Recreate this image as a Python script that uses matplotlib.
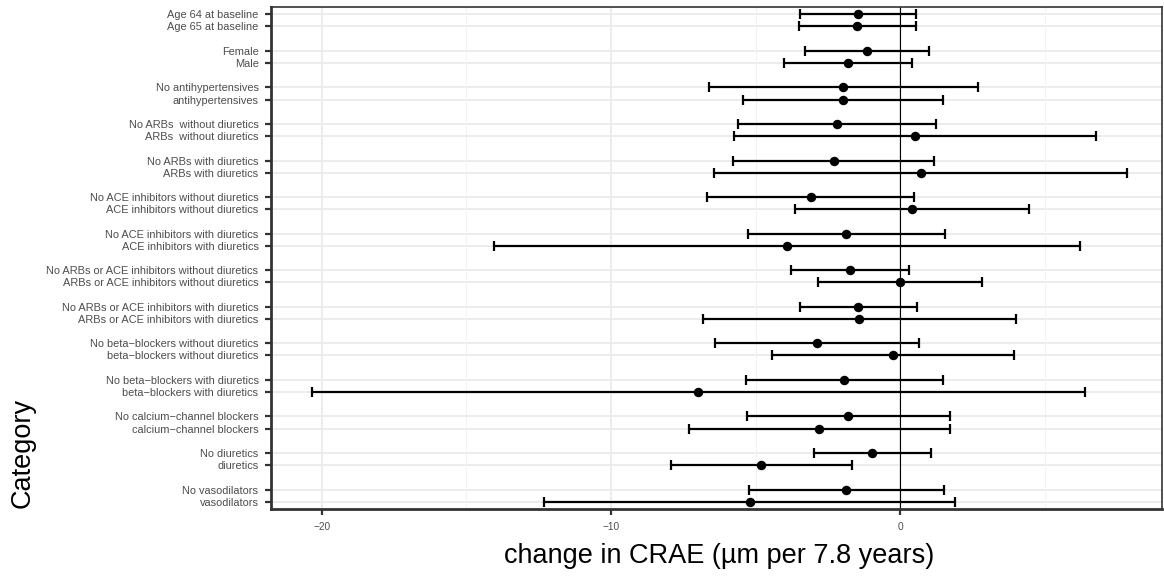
import matplotlib
matplotlib.use("Agg")
import matplotlib.pyplot as plt
import numpy as np

plt.rcParams['font.family'] = ['Liberation Sans', 'DejaVu Sans']

categories = [
    "Age 64 at baseline", "Age 65 at baseline",
    "Female", "Male",
    "No antihypertensives", "antihypertensives",
    "No ARBs  without diuretics", "ARBs  without diuretics",
    "No ARBs with diuretics", "ARBs with diuretics",
    "No ACE inhibitors without diuretics", "ACE inhibitors without diuretics",
    "No ACE inhibitors with diuretics", "ACE inhibitors with diuretics",
    "No ARBs or ACE inhibitors without diuretics", "ARBs or ACE inhibitors without diuretics",
    "No ARBs or ACE inhibitors with diuretics", "ARBs or ACE inhibitors with diuretics",
    "No beta\u2212blockers without diuretics", "beta\u2212blockers without diuretics",
    "No beta\u2212blockers with diuretics", "beta\u2212blockers with diuretics",
    "No calcium\u2212channel blockers", "calcium\u2212channel blockers",
    "No diuretics", "diuretics",
    "No vasodilators", "vasodilators",
]

estimate = [-1.47, -1.48, -1.14, -1.81, -1.96, -1.98, -2.18, 0.52, -2.30, 0.73,
            -3.10, 0.42, -1.87, -3.90, -1.73, 0.00, -1.45, -1.41, -2.86, -0.25,
            -1.93, -6.99, -1.80, -2.79, -0.96, -4.80, -1.89, -5.20]
lower = [-3.47, -3.50, -3.28, -4.02, -6.61, -5.43, -5.59, -5.73, -5.77, -6.42,
         -6.67, -3.62, -5.27, -14.03, -3.77, -2.84, -3.46, -6.81, -6.39, -4.43,
         -5.32, -20.34, -5.28, -7.29, -2.97, -7.92, -5.24, -12.32]
upper = [0.53, 0.53, 1.01, 0.41, 2.68, 1.47, 1.23, 6.78, 1.18, 7.84,
         0.47, 4.44, 1.54, 6.22, 0.29, 2.84, 0.57, 4.00, 0.65, 3.95,
         1.47, 6.40, 1.71, 1.71, 1.05, -1.68, 1.51, 1.91]

x_ticks = [-20, -10, 0]
x_minor = [-15, -5, 5]

W, H = 1164, 578
fig = plt.figure(figsize=(W / 100, H / 100), dpi=100)
ax = fig.add_axes([271 / W, 1 - 509 / H, (1162 - 271) / W, (509 - 7) / H])

idx = np.arange(len(categories))
ypos = idx + idx // 2 + 1

est = np.array(estimate)
lo = np.array(lower)
hi = np.array(upper)

# grid
for y in ypos:
    ax.axhline(y, color='#ebebeb', lw=1.3, zorder=0)
for x in x_ticks:
    ax.axvline(x, color='#ebebeb', lw=1.3, zorder=0)
for x in x_minor:
    ax.axvline(x, color='#f2f2f2', lw=0.7, zorder=0)

ax.axvline(0, color='black', lw=0.8, zorder=1)

ax.errorbar(est, ypos, xerr=[est - lo, hi - est], fmt='o', color='black',
            ms=5.8, elinewidth=1.6, capsize=3.3, capthick=1.6, zorder=3)

ax.set_xlim(-21.75, 9.05)
ax.set_ylim(41.6, 0.4)
ax.set_yticks(ypos)
ax.set_yticklabels(categories)
ax.set_xticks(x_ticks)
ax.set_xticklabels([f"\u2212{abs(t)}" if t < 0 else str(t) for t in x_ticks])

ax.tick_params(axis='y', length=4.5, width=1.6, color='#333333', labelsize=7.9,
               labelcolor='#4d4d4d', pad=4.5)
ax.tick_params(axis='x', length=4.5, width=1.6, color='#333333', labelsize=7.3,
               labelcolor='#4d4d4d', pad=5)

for s in ['top', 'right']:
    ax.spines[s].set_color('#333333')
    ax.spines[s].set_linewidth(1.2)
for s in ['left', 'bottom']:
    ax.spines[s].set_color('#333333')
    ax.spines[s].set_linewidth(2.0)

fig.text(719 / W, 1 - 556 / H, "change in CRAE (\u00b5m per 7.8 years)",
         ha='center', va='center', fontsize=19.5)
fig.text(23 / W, 1 - 453 / H, "Category", rotation=90, ha='center', va='center',
         fontsize=19.5)

fig.savefig("out.png", dpi=100)
